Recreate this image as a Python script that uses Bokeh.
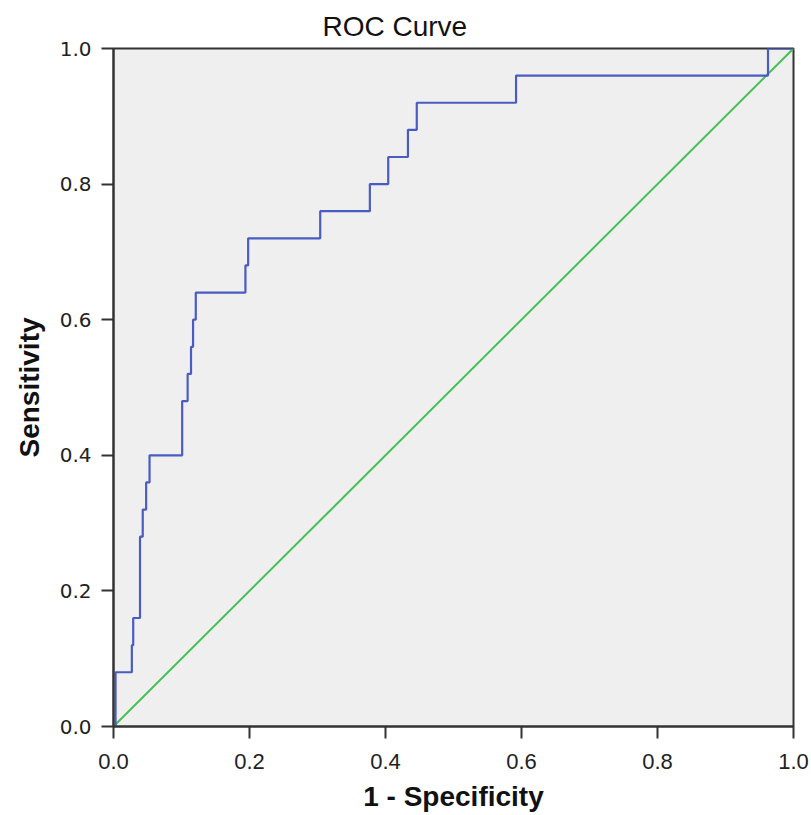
from bokeh.plotting import figure
from bokeh.models import Range1d, FixedTicker, NumeralTickFormatter
from bokeh.embed import file_html
from bokeh.resources import INLINE

# ROC operating points (1 - specificity, sensitivity)
fpr_pts = [0.003, 0.027, 0.029, 0.039, 0.043, 0.048, 0.053, 0.101, 0.109, 0.114,
           0.117, 0.121, 0.194, 0.198, 0.304, 0.377, 0.404, 0.433, 0.446, 0.592,
           0.9625, 1.0]
tpr_pts = [0.08, 0.12, 0.16, 0.28, 0.32, 0.36, 0.40, 0.48, 0.52, 0.56,
           0.60, 0.64, 0.68, 0.72, 0.76, 0.80, 0.84, 0.88, 0.92, 0.96,
           1.00, 1.00]
ref_x = [0.0, 1.0]
ref_y = [0.0, 1.0]
ticks = [0.0, 0.2, 0.4, 0.6, 0.8, 1.0]

# build the step path: horizontal then vertical to each operating point
xs, ys = [0.0], [0.0]
prev = 0.0
for f, t in zip(fpr_pts, tpr_pts):
    xs += [f, f]
    ys += [prev, t]
    prev = t

p = figure(width=811, height=815, x_range=Range1d(0, 1), y_range=Range1d(0, 1),
           output_backend="svg", toolbar_location=None,
           min_border_left=113, min_border_right=18, min_border_top=48,
           min_border_bottom=89, background_fill_color="#efefef",
           border_fill_color="white", outline_line_color="#333333",
           outline_line_width=2)

p.title.text = "ROC Curve"
p.title.text_font = "Liberation Sans"
p.title.text_font_size = "28px"
p.title.text_font_style = "normal"
p.title.text_color = "#111111"
p.title.align = "left"
p.title.offset = 209
p.title.standoff = 14

p.xgrid.visible = False
p.ygrid.visible = False

p.line(ref_x, ref_y, line_color="#44c052", line_width=2)
p.line(xs, ys, line_color="#4a5cc2", line_width=2.2)

for ax in (p.xaxis[0], p.yaxis[0]):
    ax.ticker = FixedTicker(ticks=ticks)
    ax.formatter = NumeralTickFormatter(format="0.0")
    ax.major_tick_out = 12
    ax.major_tick_in = 0
    ax.minor_tick_out = 0
    ax.minor_tick_in = 0
    ax.axis_line_width = 2
    ax.axis_line_color = "#333333"
    ax.major_tick_line_width = 2
    ax.major_tick_line_color = "#333333"
    ax.major_label_text_color = "#222222"
    ax.axis_label_text_font = "Liberation Sans"
    ax.axis_label_text_font_style = "bold"
    ax.axis_label_text_font_size = "28px"
    ax.axis_label_text_color = "#111111"

p.xaxis.axis_label = "1 - Specificity"
p.yaxis.axis_label = "Sensitivity"
p.xaxis.major_label_text_font = "Liberation Sans"
p.xaxis.major_label_text_font_size = "22px"
p.xaxis.major_label_standoff = 15
p.xaxis.axis_label_standoff = 9
p.yaxis.major_label_text_font = "DejaVu Sans"
p.yaxis.major_label_text_font_size = "20px"
p.yaxis.major_label_standoff = 10
p.yaxis.axis_label_standoff = 12

open("out.html", "w").write(file_html(p, INLINE))
